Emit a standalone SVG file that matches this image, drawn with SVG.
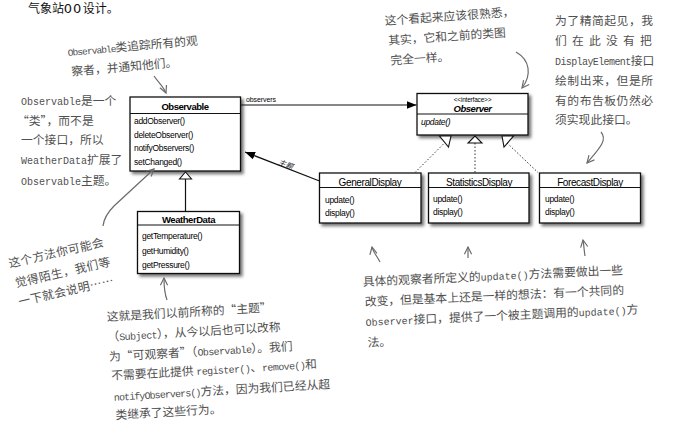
<svg xmlns="http://www.w3.org/2000/svg" width="688" height="438" viewBox="0 0 688 438">
<defs>
<filter id="sh" x="-10%" y="-10%" width="130%" height="140%">
<feDropShadow dx="2.5" dy="2.5" stdDeviation="1.6" flood-color="#000" flood-opacity="0.55"/>
</filter>
<marker id="fh" viewBox="0 0 10 8" refX="10" refY="4" markerWidth="10" markerHeight="8" markerUnits="userSpaceOnUse" orient="auto">
<path d="M0,0 L10,4 L0,8 Z" fill="#000"/>
</marker>
<marker id="oh" viewBox="0 0 10 10" refX="9" refY="5" markerWidth="9" markerHeight="9" markerUnits="userSpaceOnUse" orient="auto">
<path d="M1,1 L9,5 L1,9" fill="none" stroke="#6b6b6b" stroke-width="1.3"/>
</marker>
</defs>
<style>
.box{fill:#fff;stroke:#111;stroke-width:1.3;filter:url(#sh)}
.sep{stroke:#111;stroke-width:1.2}
.t{font-family:"Liberation Sans",Arial,sans-serif;font-size:9.5px;font-weight:bold;letter-spacing:-0.45px;fill:#000;text-anchor:middle}
.tn{font-family:"Liberation Sans",Arial,sans-serif;font-size:10px;letter-spacing:-0.4px;fill:#000;text-anchor:middle}
.m{font-family:"Liberation Sans",Arial,sans-serif;font-size:8.5px;letter-spacing:-0.3px;fill:#000}
.an{font-family:"Noto Sans CJK SC",sans-serif;font-size:11.8px;fill:#505050}
.lat{font-family:"Liberation Mono",monospace}
.ann{fill:none;stroke:#6b6b6b;stroke-width:1.2;marker-end:url(#oh)}
.uml{fill:none;stroke:#111;stroke-width:1.2}
.dot{fill:none;stroke:#333;stroke-width:1;stroke-dasharray:1.5 2}
.tri{fill:#fff;stroke:#111;stroke-width:1.1}
</style>

<text x="28" y="12.5" font-family="Noto Sans CJK SC, sans-serif" font-size="12" fill="#111">气象站<tspan font-family="Liberation Mono, monospace" font-size="13" letter-spacing="1.5">OO</tspan>设计。</text>

<g id="observable">
<rect class="box" x="130" y="97" width="110.5" height="74"/>
<line class="sep" x1="130" y1="113.5" x2="240.5" y2="113.5"/>
<text class="t" x="185" y="109.5">Observable</text>
<text class="m" x="134" y="123.5">addObserver()</text>
<text class="m" x="134" y="137.5">deleteObserver()</text>
<text class="m" x="134" y="151">notifyObservers()</text>
<text class="m" x="134" y="165">setChanged()</text>
</g>

<g id="observer">
<rect class="box" x="417" y="93.5" width="111" height="41.5"/>
<line class="sep" x1="417" y1="114" x2="528" y2="114"/>
<text x="472.5" y="101.5" font-family="Liberation Sans, Arial, sans-serif" font-size="6.5" letter-spacing="-0.2" text-anchor="middle">&lt;&lt;interface&gt;&gt;</text>
<text class="t" x="472.5" y="112" font-style="italic">Observer</text>
<text class="m" x="421" y="125" font-style="italic">update()</text>
</g>

<g id="weatherdata">
<rect class="box" x="137.5" y="211.5" width="102" height="62"/>
<line class="sep" x1="137.5" y1="225" x2="239.5" y2="225"/>
<text class="t" x="188.5" y="223">WeatherData</text>
<text class="m" x="142" y="239">getTemperature()</text>
<text class="m" x="142" y="253.5">getHumidity()</text>
<text class="m" x="142" y="267.5">getPressure()</text>
</g>

<g id="generaldisplay">
<rect class="box" x="319.5" y="173" width="101.5" height="50"/>
<line class="sep" x1="319.5" y1="187.5" x2="421" y2="187.5"/>
<text class="tn" x="370" y="185.5">GeneralDisplay</text>
<text class="m" x="325" y="202.5">update()</text>
<text class="m" x="325" y="215.5">display()</text>
</g>

<g id="statisticsdisplay">
<rect class="box" x="428.5" y="173" width="100.5" height="50"/>
<line class="sep" x1="428.5" y1="187.5" x2="529" y2="187.5"/>
<text class="tn" x="479" y="185.5">StatisticsDisplay</text>
<text class="m" x="433" y="201.5">update()</text>
<text class="m" x="433" y="214.5">display()</text>
</g>

<g id="forecastdisplay">
<rect class="box" x="539.5" y="173" width="101" height="50"/>
<line class="sep" x1="539.5" y1="187.5" x2="640.5" y2="187.5"/>
<text class="tn" x="590" y="185.5">ForecastDisplay</text>
<text class="m" x="545" y="201.5">update()</text>
<text class="m" x="545" y="214.5">display()</text>
</g>

<g id="connectors">
<line class="uml" x1="241" y1="105" x2="416.5" y2="105" marker-end="url(#fh)"/>
<text x="246" y="102" font-family="Liberation Sans, Arial, sans-serif" font-size="7" letter-spacing="-0.1">observers</text>
<line class="uml" x1="319.5" y1="181" x2="245" y2="152" marker-end="url(#fh)"/>
<text x="285" y="167" font-family="Noto Sans CJK SC, sans-serif" font-size="7.5" font-style="italic" fill="#222" text-anchor="middle" transform="rotate(21 285 166)">主题</text>
<line class="uml" x1="185.5" y1="179" x2="185.5" y2="211.5"/>
<polygon class="tri" points="179.5,179 191.5,179 185.5,172"/>
<line class="dot" x1="415" y1="172.5" x2="444.5" y2="143"/>
<line class="dot" x1="475" y1="143" x2="475" y2="172.5"/>
<line class="dot" x1="507" y1="143" x2="538" y2="172.5"/>
<polygon class="tri" points="439.5,136 451,136 448.5,147"/>
<polygon class="tri" points="468,143 482,143 475,136"/>
<polygon class="tri" points="502,136 513.5,136 504,147"/>
</g>

<g id="note-top-left">
<g transform="rotate(-5 68 56)">
<text class="an" font-size="11.6" x="68" y="56"><tspan class="lat" font-size="9.5" letter-spacing="-0.9">Observable</tspan>类追踪所有的观</text>
<text class="an" font-size="11.4" x="70" y="76">察者，并通知他们。</text>
</g>
<path class="ann" d="M154,76 C158,82 163,86 166,93"/>
</g>

<g id="note-left">
<text class="an" x="21" y="104.5"><tspan class="lat" font-size="10">Observable</tspan>是一个</text>
<text class="an" x="17" y="124.5">“类”，而不是</text>
<text class="an" x="21" y="144">一个接口，所以</text>
<text class="an" x="21" y="164"><tspan class="lat" font-size="10">WeatherData</tspan>扩展了</text>
<text class="an" x="21" y="184.5"><tspan class="lat" font-size="10">Observable</tspan>主题。</text>
</g>

<g id="note-top-center">
<g transform="rotate(-4 385 25)">
<text class="an" font-size="11.6" x="385" y="25">这个看起来应该很熟悉，</text>
<text class="an" x="387" y="45">其实，它和之前的类图</text>
<text class="an" x="388" y="65">完全一样。</text>
</g>
<path class="ann" d="M516,52 C530,60 532,75 522,88"/>
</g>

<g id="note-top-right">
<text class="an" font-size="12" x="555" y="25" textLength="98">为了精简起见，我</text>
<text class="an" font-size="12" x="555 572 589 606 623 640" y="45">们在此没有把</text>
<text class="an" font-size="12" x="555" y="65"><tspan class="lat" font-size="10" letter-spacing="-0.6">DisplayElement</tspan>接口</text>
<text class="an" font-size="12" x="555" y="85" textLength="98">绘制出来，但是所</text>
<text class="an" font-size="12" x="555" y="105" textLength="98">有的布告板仍然必</text>
<text class="an" font-size="12" x="555" y="124">须实现此接口。</text>
<path class="ann" d="M601,132 C608,140 599,149 587,163"/>
</g>

<g id="note-method">
<g transform="translate(15 262) rotate(-13)">
<text class="an" font-size="13" letter-spacing="0.4" x="-6.5" y="4.5">这个方法你可能会</text>
<text class="an" font-size="13" letter-spacing="0.4" x="-4.5" y="25">觉得陌生，我们等</text>
<text class="an" font-size="13" letter-spacing="0.4" x="-5.5" y="44">一下就会说明……</text>
</g>
<path class="ann" d="M103,226 C104,218 108,212 114,206 L154,169"/>
</g>

<g id="note-subject">
<g transform="rotate(-3.3 107 321)">
<text class="an" x="107" y="321">这就是我们以前所称的“主题”</text>
<text class="an" x="106.5" y="341">（<tspan class="lat" font-size="10" letter-spacing="-0.6">Subject</tspan>），从今以后也可以改称</text>
<text class="an" x="107" y="361">为“可观察者”（<tspan class="lat" font-size="10" letter-spacing="-0.6">Observable</tspan>）。我们</text>
<text class="an" x="108" y="380">不需要在此提供 <tspan class="lat" font-size="10" letter-spacing="-0.6">register()</tspan>、<tspan class="lat" font-size="10" letter-spacing="-0.6">remove()</tspan>和</text>
<text class="an" x="109.5" y="401"><tspan class="lat" font-size="10" letter-spacing="-0.9">notifyObservers()</tspan>方法，因为我们已经从超</text>
<text class="an" x="110" y="419.5">类继承了这些行为。</text>
</g>
<path class="ann" d="M167,300 C164,292 164,286 164,278"/>
</g>

<g id="note-update">
<g transform="rotate(-2.6 363 286)">
<text class="an" font-size="12" x="363" y="286">具体的观察者所定义的<tspan class="lat" font-size="10">update()</tspan>方法需要做出一些</text>
<text class="an" font-size="12" x="364" y="306">改变，但是基本上还是一样的想法：有一个共同的</text>
<text class="an" font-size="12" x="364" y="326"><tspan class="lat" font-size="10">Observer</tspan>接口，提供了一个被主题调用的<tspan class="lat" font-size="10">update()</tspan>方</text>
<text class="an" font-size="12" x="365" y="347">法。</text>
</g>
<path class="ann" d="M380,262 C377,256 373,252 372,247"/>
<path class="ann" d="M468,258 L468,247"/>
<path class="ann" d="M585,256 C584,250 584,246 583,240"/>
</g>
</svg>
